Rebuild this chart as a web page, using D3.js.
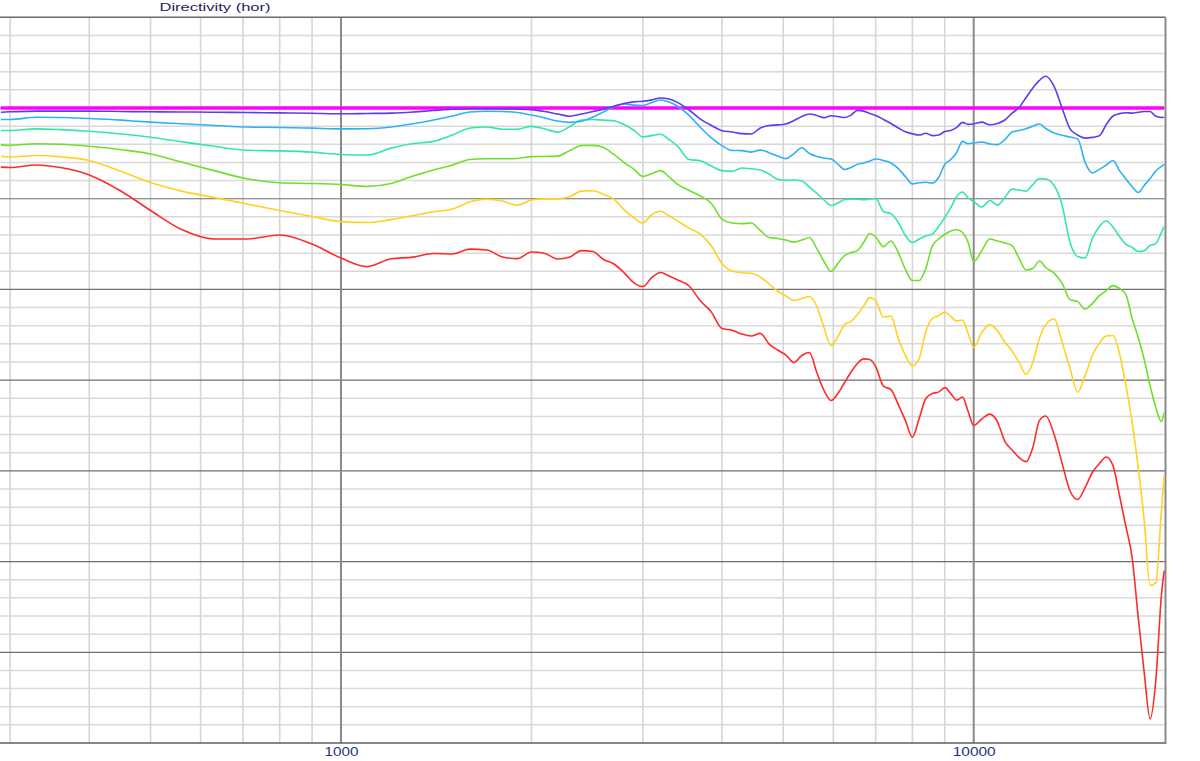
<!DOCTYPE html>
<html><head><meta charset="utf-8">
<script src="https://cdn.jsdelivr.net/npm/d3@7"></script>
<style>html,body{margin:0;padding:0;background:#fff;overflow:hidden}</style>
</head><body>
<svg id="c" width="1200" height="761"></svg>
<script>
// ---- data ----
const title = "Directivity (hor)";
const xTickLabels = [1000, 10000];
const freqs = [290,300,330,360,400,450,500,560,630,710,800,900,
1000,1100,1200,1300,1400,1500,1600,1700,1800,1900,2000,2100,2200,2300,2400,2500,2600,2700,2800,2900,3000,3100,3200,3300,3400,
3550,3700,3850,4000,4150,4300,4450,4600,4750,4900,5050,5200,5350,5500,5650,5800,5950,6100,6250,6400,6550,6700,6850,7000,
7200,7400,7600,7800,8000,8200,8400,8600,8800,9000,9200,9400,9600,9800,10000,
10300,10600,10900,11200,11500,11800,12100,12400,12700,13000,
13400,13800,14200,14600,15000,15400,15800,16200,16600,17000,17400,17800,18200,18600,19000,19400,19800,
20000];
const refFreqs = [290, 20000];
const deg0 = [0, 0];
const deg10 = [-0.23,-0.21,-0.17,-0.17,-0.17,-0.19,-0.21,-0.22,-0.23,-0.25,-0.27,-0.29,
-0.32,-0.30,-0.28,-0.22,-0.14,-0.07,-0.04,-0.04,-0.04,-0.06,-0.09,-0.19,-0.33,-0.45,-0.33,-0.19,-0.06,0.10,0.25,0.34,0.37,0.45,0.55,0.50,0.31,
-0.11,-0.61,-0.96,-1.25,-1.32,-1.41,-1.43,-1.10,-0.96,-0.93,-0.88,-0.69,-0.47,-0.33,-0.41,-0.53,-0.43,-0.47,-0.52,-0.39,-0.13,-0.17,-0.30,-0.41,
-0.63,-0.85,-1.10,-1.31,-1.42,-1.49,-1.39,-1.52,-1.49,-1.30,-1.24,-1.07,-0.79,-0.90,-0.88,
-0.78,-0.92,-0.85,-0.66,-0.28,0.03,0.58,1.10,1.52,1.75,
1.19,-0.03,-1.15,-1.49,-1.66,-1.62,-1.53,-0.91,-0.44,-0.31,-0.26,-0.28,-0.23,-0.19,-0.19,-0.46,-0.52,
-0.51];
const deg20 = [-0.63,-0.63,-0.51,-0.52,-0.58,-0.67,-0.78,-0.87,-0.96,-1.05,-1.07,-1.11,
-1.15,-1.14,-1.05,-0.87,-0.66,-0.44,-0.22,-0.18,-0.19,-0.25,-0.39,-0.55,-0.72,-0.79,-0.73,-0.50,-0.22,0.08,0.22,0.16,0.14,0.30,0.44,0.33,0.11,
-0.41,-1.07,-1.64,-2.07,-2.34,-2.35,-2.43,-2.32,-2.46,-2.65,-2.79,-2.51,-2.19,-2.51,-2.67,-2.76,-2.81,-3.09,-3.39,-3.28,-3.10,-3.03,-2.92,-2.81,
-2.89,-3.03,-3.34,-3.78,-4.18,-4.12,-4.09,-4.14,-3.83,-3.11,-2.84,-2.45,-1.84,-1.97,-1.93,
-1.87,-1.98,-2.02,-1.74,-1.32,-1.24,-1.14,-1.00,-0.88,-1.13,
-1.38,-1.50,-1.60,-1.70,-3.00,-3.58,-3.38,-3.14,-2.89,-3.45,-3.91,-4.33,-4.66,-4.27,-3.89,-3.47,-3.22,
-3.11];
const deg30 = [-1.24,-1.24,-1.15,-1.19,-1.28,-1.43,-1.61,-1.86,-2.11,-2.33,-2.36,-2.43,
-2.56,-2.59,-2.21,-1.96,-1.84,-1.49,-1.10,-1.05,-1.17,-1.17,-1.01,-1.16,-1.33,-1.02,-0.66,-0.63,-0.67,-0.70,-0.91,-1.21,-1.59,-1.52,-1.45,-1.74,-2.09,
-2.84,-2.91,-3.20,-3.45,-3.49,-3.31,-3.35,-3.42,-3.64,-3.93,-3.99,-3.97,-4.02,-4.36,-4.71,-5.07,-5.37,-5.24,-5.04,-5.02,-5.03,-5.06,-5.02,-4.99,
-5.71,-5.82,-6.31,-7.03,-7.41,-7.22,-7.06,-6.95,-6.53,-6.04,-5.49,-4.88,-4.63,-4.96,-5.15,
-5.46,-5.10,-5.35,-4.93,-4.47,-4.52,-4.58,-4.22,-3.89,-3.91,
-4.27,-5.37,-7.41,-8.19,-8.27,-7.19,-6.53,-6.23,-6.56,-7.08,-7.50,-7.68,-7.91,-7.86,-7.58,-7.47,-6.86,
-6.53];
const deg40 = [-2.03,-2.06,-1.97,-2.00,-2.11,-2.30,-2.53,-2.98,-3.45,-3.90,-4.12,-4.16,
-4.22,-4.32,-4.16,-3.75,-3.42,-3.14,-2.84,-2.80,-2.80,-2.78,-2.68,-2.67,-2.65,-2.34,-2.07,-2.06,-2.18,-2.56,-3.00,-3.36,-3.77,-3.61,-3.45,-3.80,-4.19,
-4.55,-4.85,-5.26,-6.12,-6.34,-6.38,-6.34,-6.75,-7.14,-7.19,-7.28,-7.39,-7.28,-7.14,-7.75,-8.46,-9.01,-8.57,-8.13,-7.97,-7.86,-7.41,-6.92,-7.11,
-7.64,-7.33,-7.97,-8.90,-9.51,-9.51,-8.85,-7.61,-7.22,-6.97,-6.78,-6.71,-6.86,-7.41,-8.46,
-7.86,-7.22,-7.33,-7.44,-7.58,-8.30,-8.93,-8.85,-8.43,-8.79,
-9.10,-9.68,-10.56,-10.67,-11.08,-10.78,-10.34,-10.06,-9.79,-9.95,-10.28,-11.60,-12.65,-13.86,-15.30,-16.51,-17.28,
-16.79];
const deg50 = [-2.66,-2.70,-2.62,-2.69,-2.89,-3.50,-4.11,-4.58,-4.93,-5.29,-5.65,-5.98,
-6.26,-6.31,-6.15,-5.93,-5.72,-5.57,-5.17,-5.02,-5.13,-5.35,-5.07,-5.01,-5.01,-4.88,-4.58,-4.56,-4.76,-5.02,-5.60,-6.04,-6.34,-5.87,-5.69,-5.95,-6.22,
-6.62,-6.96,-7.61,-8.57,-8.99,-9.08,-9.11,-9.32,-9.70,-10.10,-10.36,-10.61,-10.50,-10.39,-10.94,-12.10,-13.09,-12.60,-11.93,-11.76,-11.38,-10.92,-10.45,-10.61,
-11.52,-11.47,-12.71,-13.64,-14.20,-13.81,-12.32,-11.60,-11.44,-11.25,-11.49,-11.74,-11.69,-12.43,-13.19,
-12.38,-11.94,-12.27,-12.90,-13.40,-14.03,-14.69,-14.03,-12.71,-11.94,
-11.63,-12.93,-14.36,-15.66,-14.75,-13.64,-12.95,-12.57,-12.54,-13.53,-15.30,-17.34,-19.82,-22.74,-26.32,-26.16,-22.19,
-20.26];
const deg60 = [-3.26,-3.28,-3.14,-3.28,-3.69,-4.60,-5.65,-6.70,-7.22,-7.22,-7.00,-7.50,
-8.27,-8.74,-8.31,-8.22,-8.02,-8.05,-7.78,-7.83,-8.21,-8.30,-7.94,-8.02,-8.32,-8.21,-7.86,-7.91,-8.35,-8.60,-9.07,-9.62,-9.84,-9.34,-9.07,-9.26,-9.47,
-9.81,-10.64,-11.25,-12.15,-12.25,-12.46,-12.57,-12.42,-13.01,-13.34,-13.62,-14.03,-13.64,-13.48,-14.58,-15.57,-16.12,-15.74,-15.13,-14.55,-14.08,-13.83,-13.86,-14.25,
-15.33,-15.52,-16.35,-17.23,-18.14,-17.12,-16.01,-15.74,-15.66,-15.41,-15.74,-16.10,-15.93,-16.73,-17.50,
-17.14,-16.87,-17.28,-18.38,-18.85,-19.27,-19.49,-18.72,-17.23,-16.98,
-18.00,-19.60,-21.11,-21.58,-20.92,-20.09,-19.60,-19.24,-19.71,-21.36,-23.07,-24.78,-28.09,-31.12,-33.67,-31.56,-26.87,
-25.50];
const seriesNames = ["0°","60°","50°","40°","30°","20°","10°"];
const seriesColors = ["#ff00ff","#ff2a2a","#ffd21f","#6ee02a","#33e8a2","#2cb2f4","#5b3cf0"];

// ---- chart ----
const W = 1200, H = 761;
const plotL = 0, plotR = 1165.5, plotT = 17.3, plotB = 743;
const svg = d3.select("#c");
const x = d3.scaleLog().domain([1000, 10000]).range([341, 973.7]);
const y = d3.scaleLinear().domain([5, -35]).range([plotT, plotB]);

svg.append("defs").append("clipPath").attr("id","clip")
  .append("rect").attr("x",plotL).attr("y",plotT).attr("width",plotR-plotL).attr("height",plotB-plotT);

const grid = svg.append("g");
// horizontal minor/major grid
const yTicks = d3.range(-34, 5, 1);
grid.selectAll("line.hm").data(yTicks.filter(v => v % 5 !== 0)).enter().append("line")
  .attr("x1",plotL).attr("x2",plotR).attr("y1",d=>y(d)).attr("y2",d=>y(d))
  .attr("stroke","#d9d9d9").attr("stroke-width",1.5);
// vertical minor grid
const xMinor = [300,400,500,600,700,800,900,2000,3000,4000,5000,6000,7000,8000,9000];
grid.selectAll("line.vm").data(xMinor).enter().append("line")
  .attr("y1",plotT).attr("y2",plotB).attr("x1",d=>x(d)).attr("x2",d=>x(d))
  .attr("stroke","#d6d6d6").attr("stroke-width",1.6);
// horizontal major
grid.selectAll("line.hM").data(yTicks.filter(v => v % 5 === 0)).enter().append("line")
  .attr("x1",plotL).attr("x2",plotR).attr("y1",d=>y(d)).attr("y2",d=>y(d))
  .attr("stroke","#6e6e6e").attr("stroke-width",1.2);
// vertical major
grid.selectAll("line.vM").data(xTickLabels).enter().append("line")
  .attr("y1",plotT).attr("y2",plotB).attr("x1",d=>x(d)).attr("x2",d=>x(d))
  .attr("stroke","#8a8a8a").attr("stroke-width",2);

// frame
svg.append("line").attr("x1",plotL).attr("x2",plotR).attr("y1",plotT).attr("y2",plotT).attr("stroke","#6a6a6a").attr("stroke-width",1.5);
svg.append("line").attr("x1",plotL).attr("x2",plotR).attr("y1",plotB).attr("y2",plotB).attr("stroke","#5e5e5e").attr("stroke-width",1.5);
svg.append("line").attr("x1",plotR).attr("x2",plotR).attr("y1",plotT).attr("y2",plotB+1).attr("stroke","#8a8a8a").attr("stroke-width",2);

// series
const line = d3.line().x(d=>x(d.f)).y(d=>y(d.v)).curve(d3.curveMonotoneX);
const seriesData = [
  refFreqs.map((f,i)=>({f, v: deg0[i]})),
  freqs.map((f,i)=>({f, v: deg60[i]})),
  freqs.map((f,i)=>({f, v: deg50[i]})),
  freqs.map((f,i)=>({f, v: deg40[i]})),
  freqs.map((f,i)=>({f, v: deg30[i]})),
  freqs.map((f,i)=>({f, v: deg20[i]})),
  freqs.map((f,i)=>({f, v: deg10[i]}))
];
const gS = svg.append("g").attr("clip-path","url(#clip)");
gS.selectAll("path").data(seriesData).enter().append("path")
  .attr("d", d => line(d.filter(p => p.v !== undefined)))
  .attr("fill","none")
  .attr("stroke",(d,i)=>seriesColors[i])
  .attr("stroke-width",(d,i)=> i===0 ? 3.6 : 1.6)
  .attr("stroke-linejoin","round")
  .append("title").text((d,i)=>seriesNames[i]);

// x axis labels
const xAxis = d3.axisBottom(x).tickValues(xTickLabels).tickFormat(d3.format("d")).tickSize(0).tickPadding(0);
const ax = svg.append("g").attr("transform",`translate(0,${plotB})`).call(xAxis);
ax.select(".domain").remove();
ax.selectAll("text")
  .attr("y", 12.5).attr("dy", 0)
  .attr("font-family","Liberation Sans, Arial, sans-serif")
  .attr("font-size", 13)
  .attr("fill","#26367a")
  .attr("textLength", d => d === 1000 ? 34 : 43)
  .attr("lengthAdjust","spacingAndGlyphs");

// title
svg.append("text").attr("x",215).attr("y",11).attr("text-anchor","middle")
  .attr("font-family","Liberation Sans, Arial, sans-serif").attr("font-size",10.5)
  .attr("fill","#1e2454").attr("textLength",111).attr("lengthAdjust","spacingAndGlyphs")
  .text(title);
</script>
</body></html>
